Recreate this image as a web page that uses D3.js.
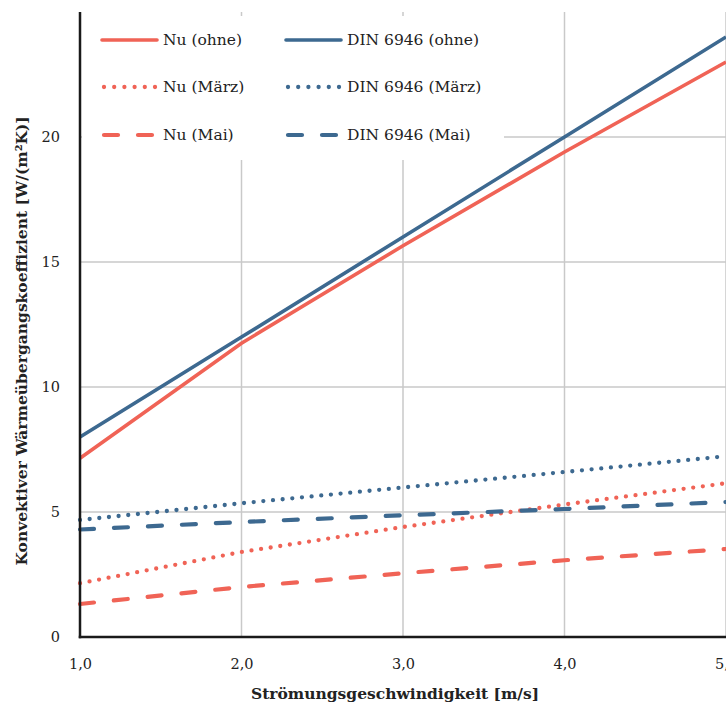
<!DOCTYPE html>
<html><head><meta charset="utf-8">
<script src="https://cdn.jsdelivr.net/npm/d3@7"></script>
<style>body{margin:0;background:#fff}svg{display:block}text{font-family:"DejaVu Serif",serif;fill:#222}</style>
</head><body>
<svg id="c" width="726" height="707"></svg>
<script>
const xValues = [1, 2, 3, 4, 5];
const xTickLabels = ["1,0", "2,0", "3,0", "4,0", "5,0"];
const yTicks = [0, 5, 10, 15, 20];
const nuOhne = [7.15, 11.75, 15.65, 19.4, 23.0];
const dinOhne = [8, 12, 16, 20, 24];
const nuMaerz = [2.15, 3.4, 4.4, 5.3, 6.15];
const dinMaerz = [4.68, 5.35, 5.98, 6.6, 7.23];
const nuMai = [1.32, 2.0, 2.55, 3.07, 3.52];
const dinMai = [4.3, 4.6, 4.87, 5.12, 5.4];
const seriesNames = ["Nu (ohne)", "Nu (März)", "Nu (Mai)", "DIN 6946 (ohne)", "DIN 6946 (März)", "DIN 6946 (Mai)"];

const RED = "#F06356", BLUE = "#3D6990";
const series = [
  {name: seriesNames[0], values: nuOhne, color: RED, style: "solid"},
  {name: seriesNames[1], values: nuMaerz, color: RED, style: "dot"},
  {name: seriesNames[2], values: nuMai, color: RED, style: "dash"},
  {name: seriesNames[3], values: dinOhne, color: BLUE, style: "solid"},
  {name: seriesNames[4], values: dinMaerz, color: BLUE, style: "dot"},
  {name: seriesNames[5], values: dinMai, color: BLUE, style: "dash"}
];
const dashes = {solid: null, dot: "0 9.7", dash: "14 20"};
const widths = {solid: 3.6, dot: 4.3, dash: 4.2};

const svg = d3.select("#c");
const L = 80, R = 726, T = 12, B = 637;
const x = d3.scaleLinear().domain([1, 5]).range([L, R]);
const y = d3.scaleLinear().domain([0, 25]).range([B, T]);

// grid
const g = svg.append("g");
g.selectAll(".vg").data(xValues.slice(1)).join("line")
  .attr("x1", d => x(d)).attr("x2", d => x(d)).attr("y1", T).attr("y2", B)
  .attr("stroke", "#c9c9c9").attr("stroke-width", 1.5);
g.selectAll(".hg").data(yTicks.slice(1)).join("line")
  .attr("x1", L).attr("x2", R).attr("y1", d => y(d)).attr("y2", d => y(d))
  .attr("stroke", "#c9c9c9").attr("stroke-width", 1.5);

// lines
const line = d3.line().x((d, i) => x(xValues[i])).y(d => y(d));
svg.append("g").selectAll("path").data(series).join("path")
  .attr("d", d => line(d.values)).attr("fill", "none")
  .attr("stroke", d => d.color).attr("stroke-width", d => widths[d.style])
  .attr("stroke-linecap", d => d.style === "solid" ? "butt" : "round")
  .attr("stroke-dasharray", d => dashes[d.style]);

// legend
const lg = svg.append("g");
lg.append("rect").attr("x", 82).attr("y", 16).attr("width", 422).attr("height", 144).attr("fill", "#fff");
const rowsY = [40, 87, 135];
series.forEach((s, i) => {
  const col = Math.floor(i / 3), row = i % 3;
  const x0 = col === 0 ? 102 : 286;
  const gg = lg.append("g");
  gg.append("line").attr("x1", x0 + (s.style === "solid" ? 0 : 2)).attr("x2", x0 + 55 - (s.style === "solid" ? 0 : 2))
    .attr("y1", rowsY[row]).attr("y2", rowsY[row])
    .attr("stroke", s.color).attr("stroke-width", widths[s.style])
    .attr("stroke-linecap", "round")
    .attr("stroke-dasharray", s.style === "dot" ? "0 10.2" : s.style === "dash" ? "14 20" : null);
  gg.append("text").attr("x", x0 + 61).attr("y", rowsY[row]).attr("dy", "0.35em")
    .style("font-size", "15.5px").text(s.name);
});

// axes
const xAxis = d3.axisBottom(x).tickValues(xValues).tickFormat((d, i) => xTickLabels[i]).tickSize(0).tickPadding(22);
const xa = svg.append("g").attr("transform", `translate(0,${B})`).call(xAxis);
xa.select(".domain").remove();
xa.selectAll("text").style("font-size", "14.5px").style("font-family", "DejaVu Serif").attr("fill", "#222");
const yAxis = d3.axisLeft(y).tickValues(yTicks).tickFormat(d => d).tickSize(0).tickPadding(20);
const ya = svg.append("g").attr("transform", `translate(${L},0)`).call(yAxis);
ya.select(".domain").remove();
ya.selectAll("text").style("font-size", "14.5px").style("font-family", "DejaVu Serif").attr("fill", "#222");

svg.append("line").attr("x1", L).attr("x2", L).attr("y1", T).attr("y2", B + 1.25).attr("stroke", "#1a1a1a").attr("stroke-width", 2.5);
svg.append("line").attr("x1", L - 1.25).attr("x2", R).attr("y1", B).attr("y2", B).attr("stroke", "#1a1a1a").attr("stroke-width", 2.5);

svg.append("text").attr("x", 395).attr("y", 699).attr("text-anchor", "middle")
  .style("font-size", "15.5px").style("font-weight", "bold").text("Strömungsgeschwindigkeit [m/s]");
svg.append("text").attr("transform", "translate(27,341) rotate(-90)").attr("text-anchor", "middle")
  .style("font-size", "15.5px").style("font-weight", "bold").text("Konvektiver Wärmeübergangskoeffizient [W/(m²K)]");
</script>
</body></html>
